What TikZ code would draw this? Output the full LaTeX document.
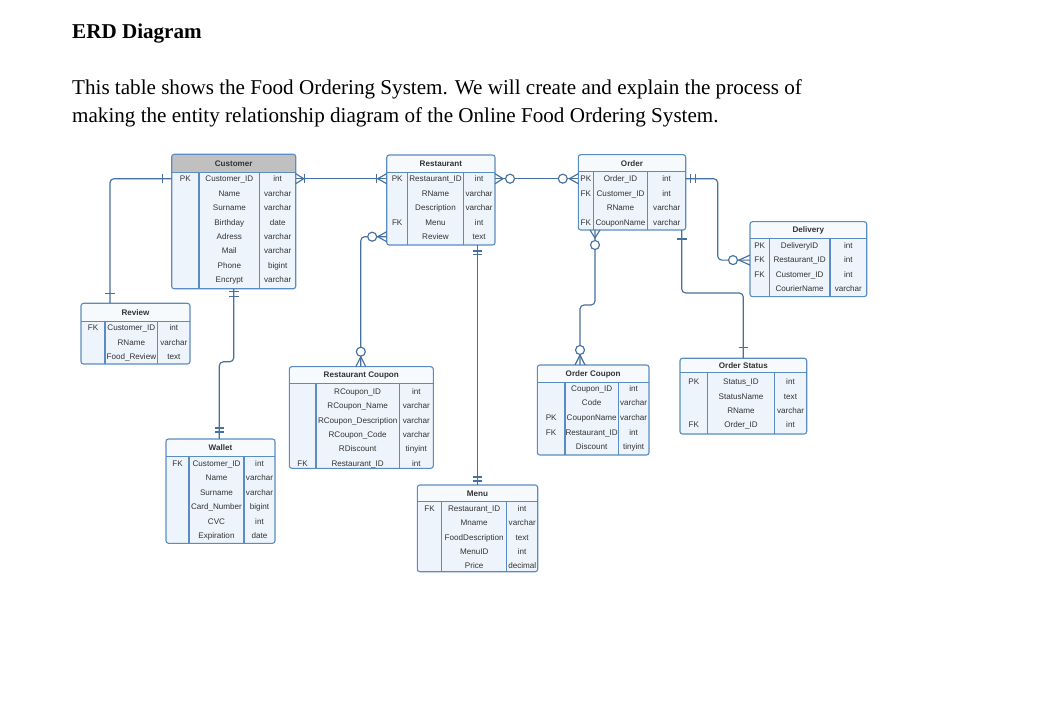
\documentclass[tikz,border=0pt]{standalone}
\usepackage{fontspec}
\setmainfont{Liberation Serif}
\newfontfamily\tabfont{Liberation Sans}
\usetikzlibrary{calc}
\definecolor{bord}{HTML}{5B8CC1}
\definecolor{bodyc}{HTML}{EEF4FB}
\definecolor{hdrw}{HTML}{F7FAFD}
\definecolor{hdrg}{HTML}{C0C0C0}
\definecolor{connc}{HTML}{46719F}
\definecolor{txtc}{HTML}{333333}

\tikzset{
 tabline/.style={draw=bord, line width=1.1pt},
 tabbox/.style={fill=bodyc, inner sep=0pt, outer sep=0pt, rounded corners=2.5pt},
 cell/.style={font=\tabfont\fontsize{8.1}{9}\selectfont, text=txtc, inner sep=0pt, anchor=base},
 ttl/.style={font=\tabfont\bfseries\fontsize{8.1}{9}\selectfont, text=txtc, inner sep=0pt, anchor=base},
 conn/.style={draw=connc, line width=1.15pt, rounded corners=4pt},
 sym/.style={draw=connc, line width=1.15pt},
 doc/.style={font=\fontsize{21.1}{28}\selectfont, anchor=base west, inner sep=0pt},
}

\newcommand\tabgeom[9]{\def\tX{#1}\def\tA{#2}\def\tB{#3}\def\tR{#4}\def\tT{#5}\def\tH{#6}\def\tBo{#7}\def\tF{#8}\def\tS{#9}}
\newcommand\erdtab[4]{%
 \pgfmathsetmacro\tW{\tR-\tX}%
 \pgfmathsetmacro\tHt{\tBo-\tT}%
 \node[tabbox, minimum width=\tW pt, minimum height=\tHt pt, anchor=north west] (#1) at (\tX,\tT) {};
 \fill[#3] (\tX,\tH) [rounded corners=2.5pt] -- (\tX,\tT) -- (\tR,\tT) [sharp corners] -- (\tR,\tH) -- cycle;
 \draw[tabline] (\tX,\tH) -- (\tR,\tH) (\tA,\tH) -- (\tA,\tBo) (\tB,\tH) -- (\tB,\tBo);
 \draw[tabline, rounded corners=2.5pt] (#1.north west) rectangle (#1.south east);
 \pgfmathsetmacro\ttly{(\tT+\tH)/2+2.9}%
 \node[ttl] (#1-t) at ({(\tX+\tR)/2},\ttly) {#2};
 \foreach \kk/\nn/\ty [count=\i from 0] in {#4} {
   \pgfmathsetmacro\yy{\tF+\i*\tS}
   \pgfmathsetmacro\yb{\yy+2.9}
   \coordinate (#1-r\i) at (\tX,\yy);
   \node[cell] (#1-k\i) at ({(\tX+\tA)/2},\yb) {\kk};
   \node[cell] (#1-n\i) at ({(\tA+\tB)/2},\yb) {\nn};
   \node[cell] (#1-y\i) at ({(\tB+\tR)/2},\yb) {\ty};
 }
}
\newcommand\crow[3]{\begin{scope}[shift={(#1)},rotate=#2]\draw[sym] (0,-5) -- (#3,0) -- (0,5);\end{scope}}
\newcommand\onebar[3]{\begin{scope}[shift={(#1)},rotate=#2]\draw[sym] (#3,-4.8) -- (#3,4.8);\end{scope}}
\newcommand\zcirc[3]{\begin{scope}[shift={(#1)},rotate=#2]\draw[sym, fill=white] (#3,0) circle (4.5pt);\end{scope}}

\begin{document}
\begin{tikzpicture}[x=1pt,y=-1pt]
\fill[white] (0,0) rectangle (1052,708);
\useasboundingbox (0,0) rectangle (1052,708);

\node[doc, font=\bfseries\fontsize{21.1}{28}\selectfont] (title) at (72,39) {ERD Diagram};
\node[doc] (l1) at (72,94.5) {This table shows the Food Ordering System. We will create and explain the process of};
\node[doc] (l2) at (72,122.5) {making the entity relationship diagram of the Online Food Ordering System.};

% tables
\tabgeom{171.7}{199}{259.7}{295.7}{154.3}{172.3}{288.8}{178.7}{14.47}
\erdtab{cust}{Customer}{hdrg}{PK/Customer\_ID/int,{}/Name/varchar,{}/Surname/varchar,{}/Birthday/date,{}/Adress/varchar,{}/Mail/varchar,{}/Phone/bigint,{}/Encrypt/varchar}

\tabgeom{386.7}{407.7}{463.3}{495}{155}{172.7}{245}{178.7}{14.5}
\erdtab{rest}{Restaurant}{hdrw}{PK/Restaurant\_ID/int,{}/RName/varchar,{}/Description/varchar,FK/Menu/int,{}/Review/text}

\tabgeom{578.3}{593.3}{647.7}{685.7}{154.7}{171.7}{230}{178.7}{14.5}
\erdtab{ord}{Order}{hdrw}{PK/Order\_ID/int,FK/Customer\_ID/int,{}/RName/varchar,FK/CouponName/varchar}

\tabgeom{750}{769.3}{830}{866.7}{221.7}{238.3}{296.7}{246}{14.1}
\erdtab{dlv}{Delivery}{hdrw}{PK/DeliveryID/int,FK/Restaurant\_ID/int,FK/Customer\_ID/int,{}/CourierName/varchar}

\tabgeom{81}{105}{157.7}{190}{303.3}{321.7}{364}{327.7}{14.5}
\erdtab{rev}{Review}{hdrw}{FK/Customer\_ID/int,{}/RName/varchar,{}/Food\_Review/text}

\tabgeom{289.3}{316}{399.3}{433.3}{366.7}{383.3}{468.3}{391.7}{14.3}
\erdtab{rc}{Restaurant Coupon}{hdrw}{{}/RCoupon\_ID/int,{}/RCoupon\_Name/varchar,{}/RCoupon\_Description/varchar,{}/RCoupon\_Code/varchar,{}/RDiscount/tinyint,FK/Restaurant\_ID/int}

\tabgeom{537.3}{565}{618.3}{649}{365}{382.3}{455}{388.3}{14.6}
\erdtab{oc}{Order Coupon}{hdrw}{{}/Coupon\_ID/int,{}/Code/varchar,PK/CouponName/varchar,FK/Restaurant\_ID/int,{}/Discount/tinyint}

\tabgeom{680}{707.7}{774.3}{806.7}{358.3}{372.7}{434}{381.7}{14.45}
\erdtab{os}{Order Status}{hdrw}{PK/Status\_ID/int,{}/StatusName/text,{}/RName/varchar,FK/Order\_ID/int}

\tabgeom{166}{189}{244}{275}{439}{456.7}{543.3}{463.3}{14.5}
\erdtab{wal}{Wallet}{hdrw}{FK/Customer\_ID/int,{}/Name/varchar,{}/Surname/varchar,{}/Card\_Number/bigint,{}/CVC/int,{}/Expiration/date}

\tabgeom{417.3}{441.7}{506.7}{537.7}{485}{501.7}{571.7}{508.7}{14.3}
\erdtab{menu}{Menu}{hdrw}{FK/Restaurant\_ID/int,{}/Mname/varchar,{}/FoodDescription/text,{}/MenuID/int,{}/Price/decimal}

% connectors
% 1 customer - restaurant
\coordinate (p1a) at (cust.east |- cust-r0);
\coordinate (p1b) at (rest.west |- rest-r0);
\draw[conn] (p1a) -- (p1b);
\crow{p1a}{0}{8} \onebar{p1a}{0}{8.5}
\crow{p1b}{180}{9} \onebar{p1b}{180}{10}

% 2 restaurant - order
\coordinate (p2a) at (rest.east |- rest-r0);
\coordinate (p2b) at (ord.west |- ord-r0);
\draw[conn] (p2a) -- (p2b);
\crow{p2a}{0}{8} \zcirc{p2a}{0}{15}
\crow{p2b}{180}{9} \zcirc{p2b}{180}{15.5}

% 3 order - delivery
\coordinate (p3a) at (ord.east |- ord-r0);
\coordinate (p3b) at (dlv.west |- dlv-r1);
\draw[conn] (p3a) -- ($(p3a)+(32,0)$) |- (p3b);
\onebar{p3a}{0}{4.5} \onebar{p3a}{0}{9.5}
\crow{p3b}{180}{11} \zcirc{p3b}{180}{17}

% 4 customer - review
\coordinate (p4a) at (cust.west |- cust-r0);
\coordinate (p4b) at ($(rev.north west)+(29,0)$);
\draw[conn] (p4a) -| (p4b);
\onebar{p4a}{180}{9.5} \onebar{p4b}{90}{10}

% 5 customer - wallet
\coordinate (p5a) at (cust.south);
\coordinate (p5b) at ($(wal.north west)+(53.3,0)$);
\draw[conn] (p5a) -- ($(p5a)+(0,73)$) -| (p5b);
\onebar{p5a}{270}{3} \onebar{p5a}{270}{8}
\onebar{p5b}{90}{7} \onebar{p5b}{90}{11}

% 6 restaurant - restaurant coupon
\coordinate (p6a) at (rest.west |- rest-r4);
\coordinate (p6b) at ($(rc.north west)+(71.5,0)$);
\draw[conn] (p6a) -| (p6b);
\crow{p6a}{180}{9} \zcirc{p6a}{180}{14.5}
\crow{p6b}{90}{10} \zcirc{p6b}{90}{15}

% 7 restaurant - menu
\coordinate (p7b) at (menu.north);
\coordinate (p7a) at (rest.south -| p7b);
\draw[conn] (p7a) -- (p7b);
\onebar{p7a}{270}{6} \onebar{p7a}{270}{9.5}
\onebar{p7b}{90}{4} \onebar{p7b}{90}{8}

% 8 order - order coupon
\coordinate (p8a) at ($(ord.south west)+(16.7,0)$);
\coordinate (p8b) at ($(oc.north west)+(42.7,0)$);
\draw[conn] (p8a) -- ($(p8a)+(0,75)$) -| (p8b);
\crow{p8a}{270}{8} \zcirc{p8a}{270}{15}
\crow{p8b}{90}{10} \zcirc{p8b}{90}{15}

% 9 order - order status
\coordinate (p9a) at ($(ord.south west)+(103.4,0)$);
\coordinate (p9b) at ($(os.north west)+(63.3,0)$);
\draw[conn] (p9a) -- ($(p9a)+(0,63)$) -| (p9b);
\onebar{p9a}{270}{9} \onebar{p9b}{90}{11}
\end{tikzpicture}
\end{document}
